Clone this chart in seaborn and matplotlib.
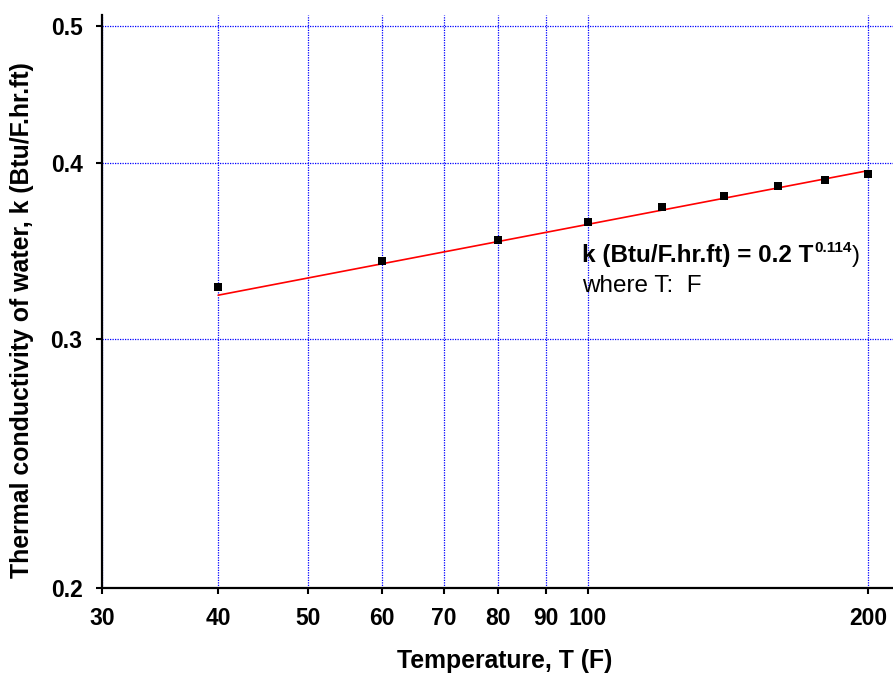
import matplotlib
matplotlib.use("Agg")
import matplotlib.pyplot as plt
from matplotlib.ticker import FixedLocator, FixedFormatter, NullLocator
import seaborn as sns
import pandas as pd

# Measured thermal conductivity of water
temperature_F = [40, 60, 80, 100, 120, 140, 160, 180, 200]
conductivity = [0.327, 0.341, 0.353, 0.363, 0.372, 0.379, 0.385, 0.389, 0.393]

# Power-law fit line, drawn between its end points
fit_T = [40, 200]
fit_k = [0.3224, 0.395]

x_ticks = [30, 40, 50, 60, 70, 80, 90, 100, 200]
x_tick_labels = ["30", "40", "50", "60", "70", "80", "90", "100", "200"]
y_ticks = [0.2, 0.3, 0.4, 0.5]
y_tick_labels = ["0.2", "0.3", "0.4", "0.5"]

sns.set_theme(style="white")
plt.rcParams["font.family"] = ["Liberation Sans", "DejaVu Sans"]
for key in ["text.color", "axes.labelcolor", "xtick.color", "ytick.color"]:
    plt.rcParams[key] = "black"

data = pd.DataFrame({"T": temperature_F, "k": conductivity})
fit = pd.DataFrame({"T": fit_T, "k": fit_k})

fig = plt.figure(figsize=(8.93, 6.73), dpi=100)
ax = fig.add_axes([102 / 893, 1 - 588 / 673, 1 - 102 / 893, (588 - 15) / 673])

ax.set_xscale("log")
ax.set_yscale("log")

sns.lineplot(data=fit, x="T", y="k", ax=ax, color="#ff0000", linewidth=1.2,
             zorder=3)
sns.scatterplot(data=data, x="T", y="k", ax=ax, marker="s", s=32,
                color="black", edgecolor="black", linewidth=0, zorder=4)

ax.set_xlim(30, 212.8)
ax.set_ylim(0.2, 0.2 * 10 ** ((588 - 15) / 1412))

ax.xaxis.set_major_locator(FixedLocator(x_ticks))
ax.xaxis.set_major_formatter(FixedFormatter(x_tick_labels))
ax.xaxis.set_minor_locator(NullLocator())
ax.yaxis.set_major_locator(FixedLocator(y_ticks))
ax.yaxis.set_major_formatter(FixedFormatter(y_tick_labels))
ax.yaxis.set_minor_locator(NullLocator())

for lbl in ax.get_xticklabels() + ax.get_yticklabels():
    lbl.set_fontweight("bold")
    lbl.set_fontsize(16.5)
    lbl.set_color("black")

ax.tick_params(axis="both", which="major", direction="out", length=4,
               width=1.5, color="black", bottom=True, left=True)
ax.tick_params(axis="x", pad=10)
ax.tick_params(axis="y", pad=10)

ax.grid(True, which="major", color="#0000ff", linestyle=(0, (1, 1)),
        linewidth=0.9)

for side in ["top", "right"]:
    ax.spines[side].set_visible(False)
for side in ["left", "bottom"]:
    ax.spines[side].set_color("black")
    ax.spines[side].set_linewidth(1.6)
    ax.spines[side].set_zorder(5)

ax.set_xlabel("")
ax.set_ylabel("")
fig.text(505 / 893, 1 - 661 / 673, "Temperature, T (F)", ha="center",
         va="center", fontsize=17.8, fontweight="bold")
fig.text(22 / 893, 1 - 320 / 673,
         "Thermal conductivity of water, k (Btu/F.hr.ft)", ha="center",
         va="center", rotation=90, fontsize=17.9, fontweight="bold")

# Fit equation: bold body, small superscript exponent, plain closing bracket
eq = fig.text(582 / 893, 1 - 262 / 673, "k (Btu/F.hr.ft) = 0.2 T",
              fontsize=17.5, fontweight="bold", ha="left", va="baseline")
sup = ax.annotate("0.114", xy=(1, 1), xycoords=eq, xytext=(0.5, 2.5),
                  textcoords="offset points", fontsize=11, fontweight="bold",
                  ha="left", va="top")
ax.annotate(")", xy=(1, 0), xycoords=(sup, eq), xytext=(0.5, 0),
            textcoords="offset points", fontsize=17.5, ha="left",
            va="bottom")
fig.text(582 / 893, 1 - 292 / 673, "where T:  F", fontsize=17.5,
         ha="left", va="baseline")

fig.savefig("out.png", dpi=100)
